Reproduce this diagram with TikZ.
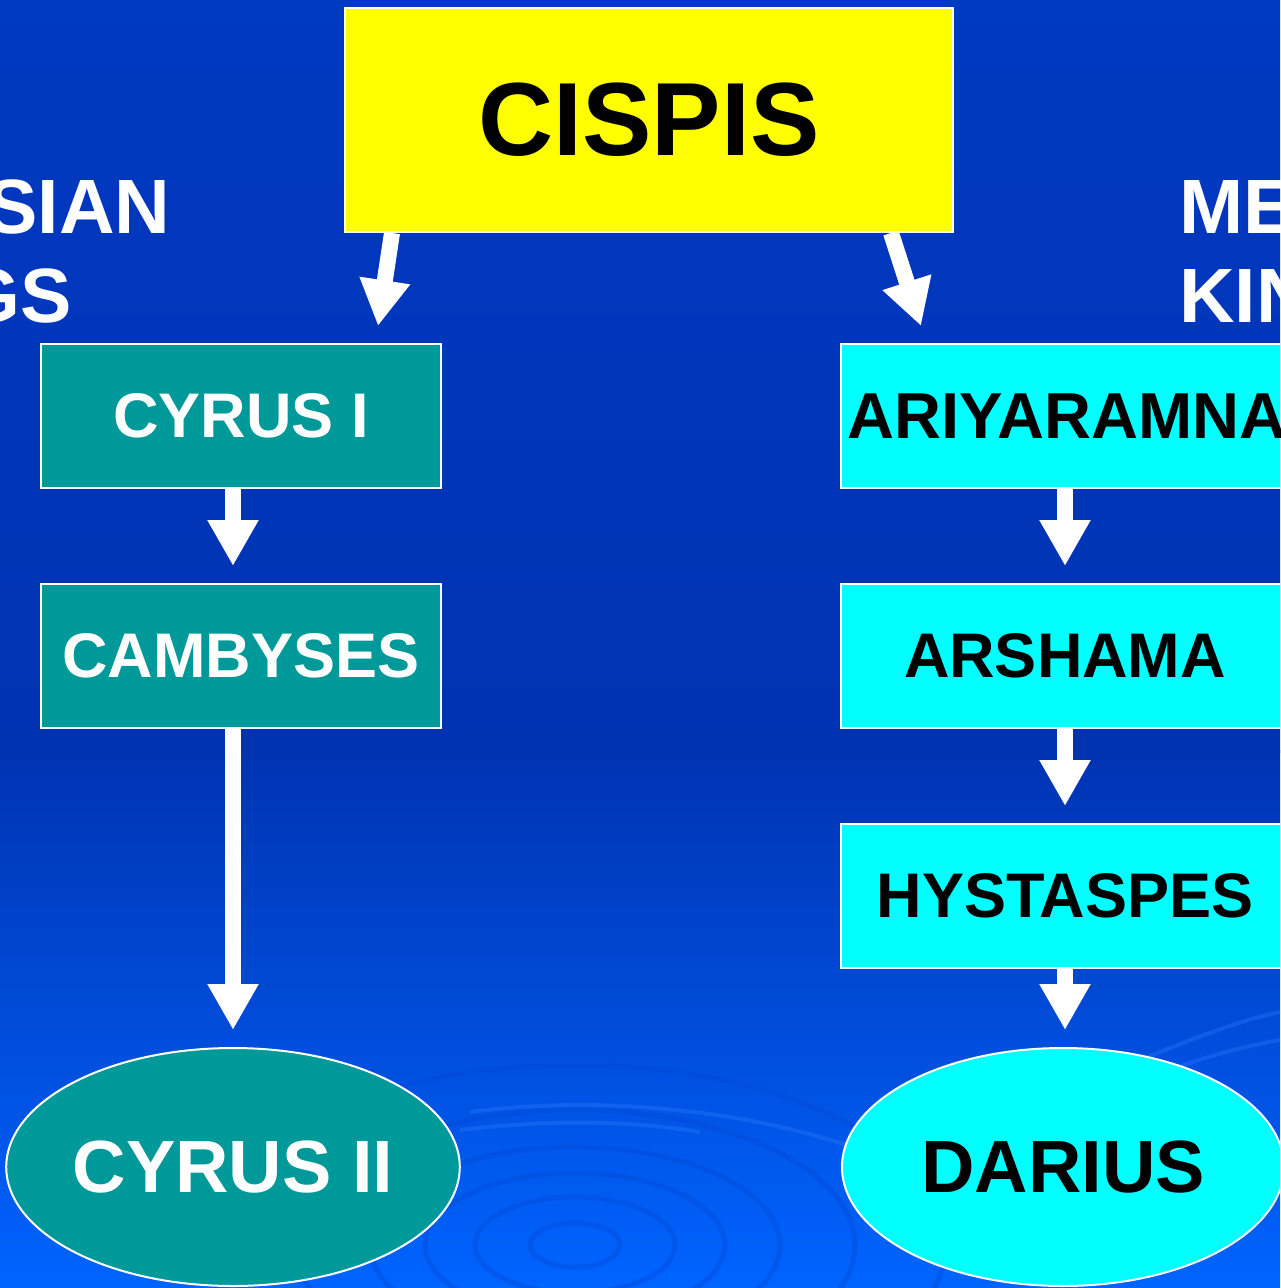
\documentclass[tikz,border=0pt]{standalone}
\usepackage{fontspec}
\setmainfont{Liberation Sans}
\usetikzlibrary{arrows.meta,shapes.geometric}
\definecolor{bgtop}{HTML}{0039C2}
\definecolor{bgmid}{HTML}{0033B2}
\definecolor{bgbot}{HTML}{0064FF}
\definecolor{yellowc}{HTML}{FFFF00}
\definecolor{tealc}{HTML}{009999}
\definecolor{cyanc}{HTML}{00FFFF}
\definecolor{ripdark}{HTML}{0048D8}
\definecolor{riplight}{HTML}{2F7CFF}
\begin{document}
\begin{tikzpicture}[x=1pt,y=-1pt,
  kbox/.style={rectangle, draw=white, line width=2pt, minimum width=400pt,
    minimum height=144pt, inner sep=0pt, font=\bfseries\fontsize{63}{63}\selectfont},
  rbox/.style={kbox, fill=cyanc, text=black, minimum width=448pt},
  lbox/.style={kbox, fill=tealc, text=white},
  kell/.style={ellipse, draw=white, line width=2pt, inner sep=0pt,
    minimum height=238pt, font=\bfseries\fontsize{74}{74}\selectfont},
  side/.style={anchor=base west, inner sep=0pt, text=white,
    font=\bfseries\fontsize{77}{77}\selectfont},
  blockarrow/.style={draw=white, line width=16pt,
    -{Triangle[width=48pt,length=46pt]}}
]
\useasboundingbox (0,0) rectangle (1280,1288);
\begin{scope}
\clip (0,0) rectangle (1280,1288);
\shade[top color=bgtop, bottom color=bgmid] (0,0) rectangle (1280,752);
\shade[top color=bgmid, bottom color=bgbot] (0,750) rectangle (1280,1288);
% faint ripples
\foreach \rx/\ry in {45/22, 100/48, 150/72, 205/98, 280/135, 370/180}
  \draw[ripdark, line width=5pt, opacity=0.4] (575,1245) ellipse ({\rx} and {\ry});
\draw[riplight, line width=4pt, opacity=0.35] (470,1112) .. controls (600,1095) and (750,1110) .. (860,1150);
\draw[riplight, line width=4pt, opacity=0.35] (460,1130) .. controls (560,1118) and (640,1122) .. (700,1132);
\draw[riplight, line width=4pt, opacity=0.35] (1140,1060) .. controls (1190,1040) and (1240,1020) .. (1280,1012);
\draw[riplight, line width=4pt, opacity=0.35] (1170,1070) .. controls (1210,1055) and (1250,1045) .. (1280,1040);

\node[side] (persian1) at (-172,233) {PERSIAN};
\node[side] (persian2) at (-172,322) {KINGS};
\node[side] (median1) at (1179,233) {MEDIAN};
\node[side] (median2) at (1179,322) {KINGS};

\node[kbox, fill=yellowc, text=black, minimum width=608pt, minimum height=224pt,
  font=\bfseries\fontsize{104}{104}\selectfont] (cispis) at (649,120) {CISPIS};

\node[lbox] (cyrus1) at (241,416) {CYRUS I};
\node[lbox] (cambyses) at (241,656) {CAMBYSES};
\node[kell, fill=tealc, text=white, minimum width=448pt] (cyrus2) at (233,1167) {CYRUS II};

\node[rbox, font=\bfseries\fontsize{65}{65}\selectfont] (ariya) at (1065,416) {\hspace*{4pt}ARIYARAMNA};
\node[rbox] (arsh) at (1065,656) {ARSHAMA};
\node[rbox] (hyst) at (1065,896) {HYSTASPES};
\node[kell, fill=cyanc, text=black, minimum width=442pt] (darius) at (1063,1167) {DARIUS};

% arrows
\draw[blockarrow] ([xshift=-257pt]cispis.south) -- ([xshift=137pt,yshift=17pt]cyrus1.north);
\draw[blockarrow] ([xshift=242pt]cispis.south) -- ([xshift=-144pt,yshift=17pt]ariya.north);
\draw[blockarrow, shorten >=17pt] ([xshift=-8pt]cyrus1.south) -- ([xshift=-8pt]cambyses.north);
\draw[blockarrow, shorten >=17pt] ([xshift=-8pt]cambyses.south) -- (cyrus2.north);
\draw[blockarrow, shorten >=17pt] (ariya.south) -- (arsh.north);
\draw[blockarrow, shorten >=17pt] (arsh.south) -- (hyst.north);
\draw[blockarrow, shorten >=17pt] (hyst.south) -- (hyst.south |- darius.north);
\end{scope}
\end{tikzpicture}
\end{document}
